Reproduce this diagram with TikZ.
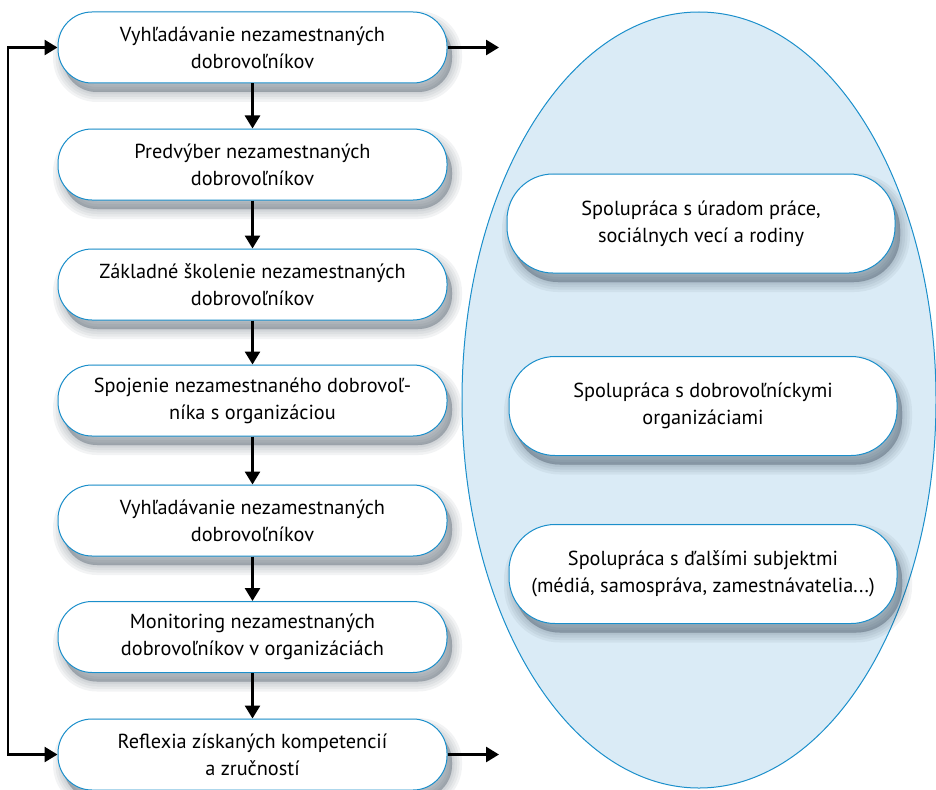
\documentclass[tikz,border=0pt]{standalone}
\usepackage{fontspec}
\setmainfont{PT Sans}
\usetikzlibrary{arrows.meta,shapes.geometric}
\definecolor{bblue}{HTML}{1B8FCB}
\definecolor{efill}{HTML}{DAEBF6}
\definecolor{shcol}{HTML}{2A3A4A}
\begin{document}
\begin{tikzpicture}[x=1pt,y=1pt,
  shlayer/.style={preaction={draw=shcol, fill=shcol, draw opacity=0.06, fill opacity=0.07,
    line width=#1, transform canvas={xshift=5pt,yshift=-9pt}}},
  base/.style={draw=bblue, line width=1pt, fill=white, align=center,
    font=\fontsize{20.3}{27}\selectfont, inner sep=0pt,
    shlayer=20pt, shlayer=15pt, shlayer=10pt, shlayer=5pt, shlayer=1pt},
  lbox/.style={base, rounded corners=34pt, minimum width=389pt, minimum height=71pt},
  rbox/.style={base, rounded corners=46pt, minimum width=388pt, minimum height=99pt},
  arr/.style={line width=2.7pt, -{Triangle[length=13pt,width=15pt]}}]
\useasboundingbox (0,0) rectangle (936,-789);
% container ellipse
\node[ellipse, draw=bblue, line width=1pt, fill=efill, minimum width=474pt, minimum height=776pt, inner sep=0pt] (ell) at (699,-400) {};
% left column
\node[lbox] (b1) at (252.5,-47.5) {Vyhľadávanie nezamestnaných\\dobrovoľníkov};
\node[lbox] (b2) at (252.5,-164.5) {Predvýber nezamestnaných\\dobrovoľníkov};
\node[lbox] (b3) at (252.5,-284.5) {Základné školenie nezamestnaných\\dobrovoľníkov};
\node[lbox] (b4) at (252.5,-400.5) {Spojenie nezamestnaného dobrovoľ-\\níka s organizáciou};
\node[lbox] (b5) at (252.5,-520.5) {Vyhľadávanie nezamestnaných\\dobrovoľníkov};
\node[lbox] (b6) at (252.5,-637) {Monitoring nezamestnaných\\dobrovoľníkov v organizáciách};
\node[lbox] (b7) at (252.5,-754.5) {Reflexia získaných kompetencií\\a zručností};
% right column
\node[rbox] (r1) at (701,-223.5) {Spolupráca s úradom práce,\\sociálnych vecí a rodiny};
\node[rbox] (r2) at (703,-406) {Spolupráca s dobrovoľníckymi\\organizáciami};
\node[rbox] (r3) at (703,-574) {Spolupráca s ďalšími subjektmi\\(médiá, samospráva, zamestnávatelia...)};
% arrows
\draw[arr] (b1) -- (b2);
\draw[arr] (b2) -- (b3);
\draw[arr] (b3) -- (b4);
\draw[arr] (b4) -- (b5);
\draw[arr] (b5) -- (b6);
\draw[arr] (b6) -- (b7);
\coordinate (lp) at (8,-400);
\draw[arr] (lp) |- (b1.west);
\draw[arr] (lp) |- (b7.west);
\coordinate (o1) at (499,-47.5);
\coordinate (o7) at (499,-754.5);
\draw[arr] (b1.east) -- (o1);
\draw[arr] (b7.east) -- (o7);
\end{tikzpicture}
\end{document}
